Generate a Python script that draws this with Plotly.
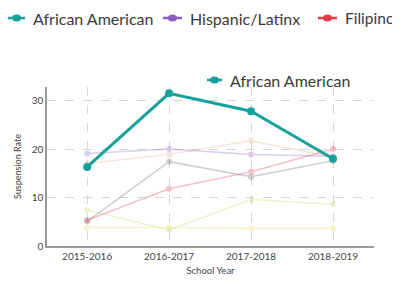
import plotly.graph_objects as go

years = ["2015-2016", "2016-2017", "2017-2018", "2018-2019"]

african_american = [16.3, 31.5, 27.8, 18.0]
hispanic_latinx = [19.1, 20.0, 18.9, 18.5]
filipino = [5.3, 11.8, 15.3, 20.0]
white = [5.1, 17.4, 14.3, 17.6]
pacific_islander = [17.0, 18.9, 21.7, 18.3]
asian = [7.4, 3.3, 9.6, 8.6]
native_american = [3.8, 3.8, 3.6, 3.6]

tick_y = [0, 10, 20, 30]

series = [
    ("Native American", native_american, "#eed85a"),
    ("Asian", asian, "#c3d86a"),
    ("Pacific Islander", pacific_islander, "#e6a585"),
    ("White", white, "#606070"),
    ("Filipino", filipino, "#e03a48"),
    ("Hispanic/Latinx", hispanic_latinx, "#8d5cc2"),
]

fig = go.Figure()
for name, vals, col in series:
    fig.add_trace(go.Scatter(
        x=years, y=vals, name=name, mode="lines+markers",
        line=dict(color=col, width=1.5), marker=dict(color=col, size=6),
        opacity=0.3, showlegend=False))

fig.add_trace(go.Scatter(
    x=years, y=african_american, name="African American", mode="lines+markers",
    line=dict(color="#16a19c", width=3), marker=dict(color="#16a19c", size=8),
    showlegend=False))

# page body has an 8px margin; work in page pixels and offset
OFF = 8
W, H = 400 - OFF, 287 - OFF
L = 47 - OFF
T = 87 - OFF
R = W - (374 - OFF)
B = H - (246 - OFF)
pw = W - L - R
ph = H - T - B

def px_x(px):
    return (px - OFF - L) / pw

def px_y(py):
    return (H - B - (py - OFF)) / ph

shapes = []
annotations = []

def legend_item(x0, x1, y, text, col, size=16):
    shapes.append(dict(type="line", xref="paper", yref="paper",
                       x0=px_x(x0), x1=px_x(x1), y0=px_y(y), y1=px_y(y),
                       line=dict(color=col, width=2.5)))
    mx = (x0 + x1) / 2
    shapes.append(dict(type="circle", xref="paper", yref="paper",
                       xsizemode="pixel", ysizemode="pixel",
                       xanchor=px_x(mx), yanchor=px_y(y),
                       x0=-4.5, x1=4.5, y0=-3.5, y1=3.5,
                       fillcolor=col, line=dict(color=col, width=0)))
    annotations.append(dict(xref="paper", yref="paper", x=px_x(x1 + 6), y=px_y(y),
                            xanchor="left", yanchor="middle", showarrow=False,
                            text=text, font=dict(family="Lato", size=size, color="#3a3a3a")))

legend_item(8, 25, 18, "African American", "#16a19c")
legend_item(163, 182, 18, "Hispanic/Latinx", "#8d5cc2")
legend_item(318, 337, 18, "Filipino", "#e03a48", size=15.5)
legend_item(207, 222, 80, "African American", "#16a19c")

fig.update_layout(
    width=W, height=H,
    margin=dict(l=L, r=R, t=T, b=B, autoexpand=False),
    paper_bgcolor="white", plot_bgcolor="white",
    font=dict(family="Lato", color="#444"),
    shapes=shapes, annotations=annotations,
    showlegend=False,
)
fig.update_xaxes(
    type="category", range=[-0.49, 3.5], automargin=False,
    showgrid=True, gridcolor="#d6d6d6", griddash="dash", gridwidth=1,
    showline=True, linecolor="#9a9a9a", linewidth=2,
    ticks="", tickfont=dict(size=10, color="#444"),
    title=dict(text="School Year", font=dict(size=9.5, color="#444"), standoff=6),
)
fig.update_yaxes(
    range=[0, 32.8], tickvals=tick_y, automargin=False,
    showgrid=True, gridcolor="#d6d6d6", griddash="dash", gridwidth=1,
    zeroline=False,
    showline=True, linecolor="#9a9a9a", linewidth=1.5,
    ticks="", tickfont=dict(size=10, color="#444"),
    title=dict(text="Suspension Rate", font=dict(size=9, color="#444"), standoff=8),
)

fig.write_html("out.html")
